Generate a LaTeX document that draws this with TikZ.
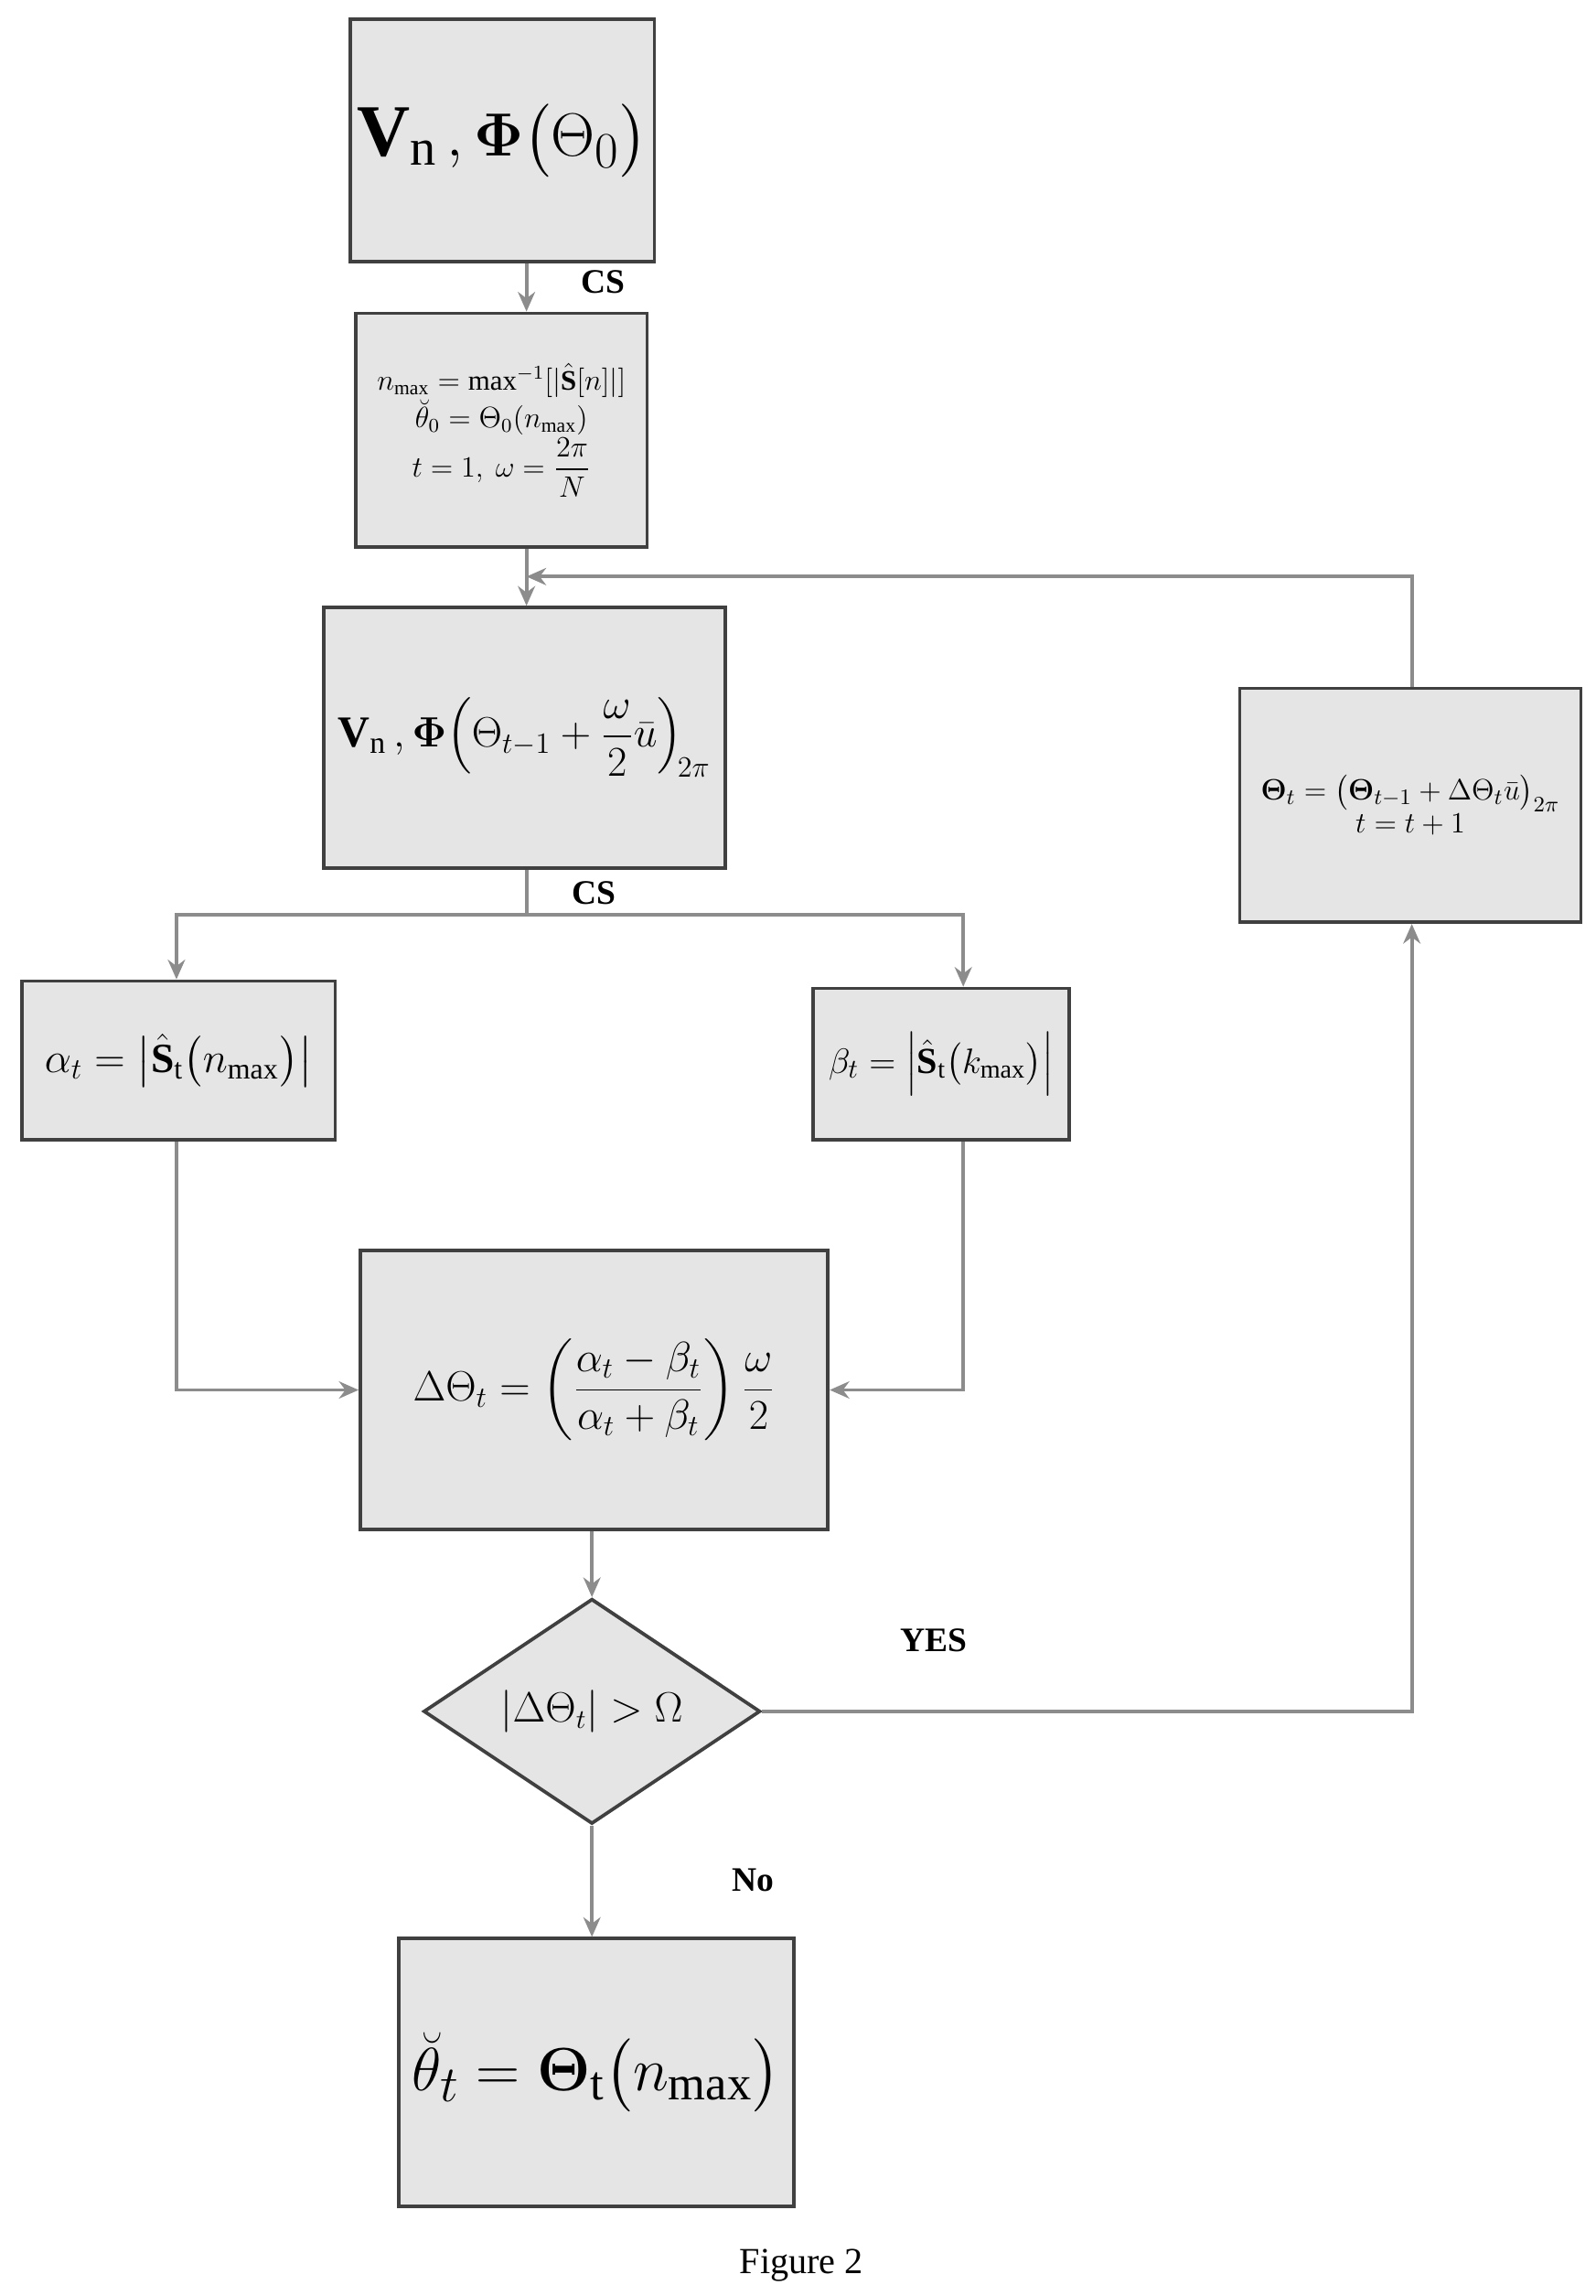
\documentclass[tikz,border=0pt]{standalone}
\usepackage{amsmath}
\usepackage{fontspec}
\setmainfont{Liberation Serif}
\usetikzlibrary{shapes.geometric,arrows.meta}
\begin{document}
\begin{tikzpicture}[x=0.6pt,y=-0.6pt,
 box/.style={draw=black!75,line width=1.4pt,fill=black!10,inner sep=0pt},
 ln/.style={draw=black!45,line width=1.4pt},
 ar/.style={ln,-{Stealth[length=8pt,width=7pt]}},
 lab/.style={font=\bfseries\fontsize{14}{16}\selectfont}]
\useasboundingbox (0,0) rectangle (1085,1561);
\node[box,minimum width=207*0.6pt,minimum height=165*0.6pt] (b1) at (341.5,95.5) {\fontsize{30}{34}\selectfont $\mathbf V_{\mathrm n}\,,\boldsymbol\Phi\big(\Theta_0\big)$};
\node[box,minimum width=198*0.6pt,minimum height=159*0.6pt,align=center] (b2) at (341,292.5) {\fontsize{11.5}{19}\selectfont $n_{\max}=\max\nolimits^{-1}[|\hat{\mathbf S}[n]|]$\\ \fontsize{11.5}{19}\selectfont $\breve\theta_0=\Theta_0(n_{\max})$\\ \fontsize{11.5}{19}\selectfont $t=1,\ \omega=\dfrac{2\pi}{N}$};
\node[box,minimum width=273*0.6pt,minimum height=177*0.6pt] (b3) at (356.5,501.5) {\fontsize{18}{22}\selectfont $\mathbf V_{\mathrm n}\,,\boldsymbol\Phi\!\left(\Theta_{t-1}+\dfrac{\omega}{2}\bar u\right)_{\!2\pi}$};
\node[box,minimum width=213*0.6pt,minimum height=108*0.6pt] (b4) at (121.5,721) {\fontsize{17}{22}\selectfont $\alpha_t=\left|\hat{\mathbf S}_{\mathrm t}\big(n_{\max}\big)\right|$};
\node[box,minimum width=174*0.6pt,minimum height=103*0.6pt] (b5) at (640,723.5) {\fontsize{15}{20}\selectfont $\beta_t=\left|\hat{\mathbf S}_{\mathrm t}\big(k_{\max}\big)\right|$};
\node[box,minimum width=318*0.6pt,minimum height=190*0.6pt] (b6) at (404,945) {\fontsize{18}{22}\selectfont $\Delta\Theta_t=\left(\dfrac{\alpha_t-\beta_t}{\alpha_t+\beta_t}\right)\dfrac{\omega}{2}$};
\node[box,diamond,minimum width=229*0.6pt,minimum height=153*0.6pt] (d) at (402.5,1163.5) {};
\node at (d) {\fontsize{16}{20}\selectfont $\left|\Delta\Theta_t\right|>\Omega$};
\node[box,minimum width=269*0.6pt,minimum height=182*0.6pt] (b7) at (405.5,1409) {\fontsize{28}{32}\selectfont $\breve\theta_t=\boldsymbol\Theta_{\mathrm t}\big(n_{\max}\big)$};
\node[box,minimum width=232*0.6pt,minimum height=159*0.6pt,align=center] (br) at (959,547.5) {\fontsize{13}{24}\selectfont $\boldsymbol\Theta_t=\big(\boldsymbol\Theta_{t-1}+\Delta\Theta_t\bar u\big)_{2\pi}$\\ \fontsize{13}{24}\selectfont $t=t+1$};
\coordinate (j) at (358,392);
\coordinate (s) at (358,622);
\coordinate (s4) at (120,622);
\coordinate (s5) at (655,622);
\coordinate (m4) at (120,945);
\coordinate (m5) at (655,945);
\coordinate (r) at (960,1163.5);
\coordinate (rt) at (960,392);
\draw[ar] (b1.south -| 358,0) -- (b2.north -| 358,0);
\draw[ar] (b2.south -| 358,0) -- (b3.north -| 358,0);
\draw[ar] (br.north -| rt) -- (rt) -- (j);
\draw[ln] (b3.south -| s) -- (s);
\draw[ar] (s) -- (s4) -- (b4.north -| s4);
\draw[ar] (s) -- (s5) -- (b5.north -| s5);
\draw[ar] (b4.south -| m4) -- (m4) -- (b6.west |- m4);
\draw[ar] (b5.south -| m5) -- (m5) -- (b6.east |- m5);
\draw[ar] (b6.south -| d) -- (d.north);
\draw[ar] (d.east) -- (r) -- (br.south -| r);
\draw[ar] (d.south) -- (b7.north -| d);
\node[lab] (l1) at (410,192) {CS};
\node[lab] (l2) at (404,607) {CS};
\node[lab] (l3) at (635,1115) {YES};
\node[lab] (l4) at (512,1278) {No};
\node[font=\fontsize{15}{18}\selectfont] (fig) at (545,1540) {Figure 2};
\end{tikzpicture}
\end{document}
